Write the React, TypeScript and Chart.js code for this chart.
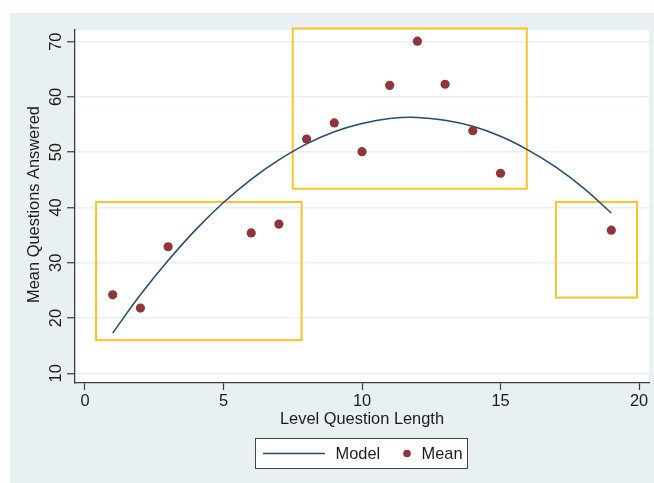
import React, { useEffect, useRef } from "react";
import { Chart, registerables } from "chart.js";

Chart.register(...registerables);

// ---- Data ----
const levelLengths = [1, 2, 3, 6, 7, 8, 9, 10, 11, 12, 13, 14, 15, 19];
const meanAnswered = [24.2, 21.8, 32.9, 35.4, 37.0, 52.4, 55.3, 50.1, 62.1, 70.1, 62.3, 53.9, 46.2, 35.9];

const modelX = [1, 2, 3, 4, 5, 6, 7, 8, 9, 10, 11, 12, 13, 14, 15, 16, 17, 18, 19];
const modelY = [17.3, 24.2, 30.4, 36.0, 40.9, 45.1, 48.6, 51.5, 53.7, 55.2, 56.1, 56.3, 55.8, 54.7, 52.9, 50.4, 47.3, 43.5, 39.0];

const xTicks = [0, 5, 10, 15, 20];
const yTicks = [10, 20, 30, 40, 50, 60, 70];

// highlighted regions (data units)
const boxXMin = [0.4, 7.5, 17.0];
const boxXMax = [7.82, 15.95, 19.93];
const boxYMin = [16.0, 43.4, 23.7];
const boxYMax = [41.0, 72.4, 41.0];

const xTitle = "Level Question Length";
const yTitle = "Mean Questions Answered";
const legendLabels = ["Model", "Mean"];

// ---- Styles ----
const FONT = '"Liberation Sans", Arial, Helvetica, sans-serif';
const FONT_SIZE = 16.4;
const BG = "#e9f0f2";
const GRID = "#e8f0f2";
const NAVY = "#1f4b75";
const MAROON = "#90353b";
const GOLD = "#fcc22a";
const AXIS = "#3c3c3c";
const TEXT = "#1c1c1c";

export default function App() {
  const ref = useRef<HTMLCanvasElement>(null);

  useEffect(() => {
    const canvas = ref.current;
    if (!canvas) return;

    const decor = {
      id: "decor",
      beforeDraw(chart: any) {
        const { ctx, chartArea: a, width, height } = chart;
        ctx.save();
        ctx.fillStyle = "#ffffff";
        ctx.fillRect(0, 0, width, height);
        ctx.fillStyle = BG;
        ctx.fillRect(10, 13, width - 10, height - 13);
        ctx.fillStyle = "#ffffff";
        ctx.fillRect(a.left, a.top, a.right - a.left, a.bottom - a.top);
        ctx.restore();
      },
      beforeDatasetsDraw(chart: any) {
        const { ctx } = chart;
        const xs = chart.scales.x;
        const ys = chart.scales.y;
        ctx.save();
        ctx.strokeStyle = GOLD;
        ctx.lineWidth = 2;
        for (let i = 0; i < boxXMin.length; i++) {
          const x1 = xs.getPixelForValue(boxXMin[i]);
          const x2 = xs.getPixelForValue(boxXMax[i]);
          const y1 = ys.getPixelForValue(boxYMax[i]);
          const y2 = ys.getPixelForValue(boxYMin[i]);
          ctx.strokeRect(x1, y1, x2 - x1, y2 - y1);
        }
        ctx.restore();
      },
      afterDraw(chart: any) {
        const { ctx, chartArea: a } = chart;
        const xs = chart.scales.x;
        const ys = chart.scales.y;
        ctx.save();
        ctx.fillStyle = TEXT;
        ctx.font = `${FONT_SIZE}px ${FONT}`;

        // y tick labels (rotated)
        ctx.textAlign = "center";
        ctx.textBaseline = "alphabetic";
        for (const v of yTicks) {
          const y = ys.getPixelForValue(v);
          ctx.save();
          ctx.translate(60.5, y);
          ctx.rotate(-Math.PI / 2);
          ctx.fillText(String(v), 0, 0);
          ctx.restore();
        }
        // x tick labels
        for (const v of xTicks) {
          const x = xs.getPixelForValue(v);
          ctx.fillText(String(v), x, 406);
        }
        // x title
        ctx.fillText(xTitle, (a.left + a.right) / 2, 423.5);
        // y title
        ctx.save();
        ctx.translate(38.5, (a.top + a.bottom) / 2 - 2);
        ctx.rotate(-Math.PI / 2);
        ctx.fillText(yTitle, 0, 0);
        ctx.restore();

        // legend
        ctx.fillStyle = "#ffffff";
        ctx.fillRect(255.5, 438.5, 212, 30);
        ctx.strokeStyle = "#444444";
        ctx.lineWidth = 1;
        ctx.strokeRect(255.5, 438.5, 212, 30);
        ctx.strokeStyle = NAVY;
        ctx.lineWidth = 1.5;
        ctx.beginPath();
        ctx.moveTo(263, 453.5);
        ctx.lineTo(325, 453.5);
        ctx.stroke();
        ctx.fillStyle = MAROON;
        ctx.beginPath();
        ctx.arc(407, 453.5, 3.8, 0, Math.PI * 2);
        ctx.fill();
        ctx.fillStyle = TEXT;
        ctx.textAlign = "left";
        ctx.fillText(legendLabels[0], 335.5, 459);
        ctx.fillText(legendLabels[1], 421.5, 459);
        ctx.restore();
      },
    };

    const chart = new Chart(canvas, {
      type: "scatter",
      data: {
        datasets: [
          {
            label: legendLabels[1],
            data: levelLengths.map((x, i) => ({ x, y: meanAnswered[i] })),
            backgroundColor: MAROON,
            borderColor: MAROON,
            borderWidth: 0,
            pointRadius: 4.6,
            order: 0,
          },
          {
            type: "line",
            label: legendLabels[0],
            data: modelX.map((x, i) => ({ x, y: modelY[i] })),
            borderColor: NAVY,
            backgroundColor: NAVY,
            borderWidth: 1.5,
            pointRadius: 0,
            showLine: true,
            fill: false,
            tension: 0.4,
            order: 1,
          } as any,
        ],
      },
      options: {
        responsive: false,
        animation: false,
        devicePixelRatio: 1,
        layout: { padding: { left: 75, right: 5, top: 30, bottom: 100 } },
        plugins: {
          legend: { display: false },
          tooltip: { enabled: false },
          title: { display: false },
        },
        scales: {
          x: {
            type: "linear",
            min: -0.361,
            max: 20.361,
            afterBuildTicks: (s: any) => {
              s.ticks = xTicks.map((v) => ({ value: v }));
            },
            afterFit: (s: any) => {
              s.height = 0;
            },
            ticks: { display: false },
            grid: {
              drawOnChartArea: false,
              drawTicks: true,
              tickLength: 7,
              tickColor: AXIS,
              tickWidth: 1.2,
            },
            border: { display: true, color: AXIS, width: 1.3 },
            title: { display: false },
          },
          y: {
            type: "linear",
            min: 8.245,
            max: 72.12,
            afterBuildTicks: (s: any) => {
              s.ticks = yTicks.map((v) => ({ value: v }));
            },
            afterFit: (s: any) => {
              s.width = 0;
            },
            ticks: { display: false },
            grid: {
              drawOnChartArea: true,
              color: GRID,
              lineWidth: 1.5,
              drawTicks: true,
              tickLength: 8,
              tickColor: AXIS,
              tickWidth: 1.2,
            },
            border: { display: true, color: AXIS, width: 1.3 },
            title: { display: false },
          },
        },
      },
      plugins: [decor],
    } as any);

    return () => {
      chart.destroy();
    };
  }, []);

  return (
    <div style={{ position: "fixed", left: 0, top: 0, width: 654, height: 483 }}>
      <canvas ref={ref} width={654} height={483} style={{ display: "block" }} />
    </div>
  );
}
